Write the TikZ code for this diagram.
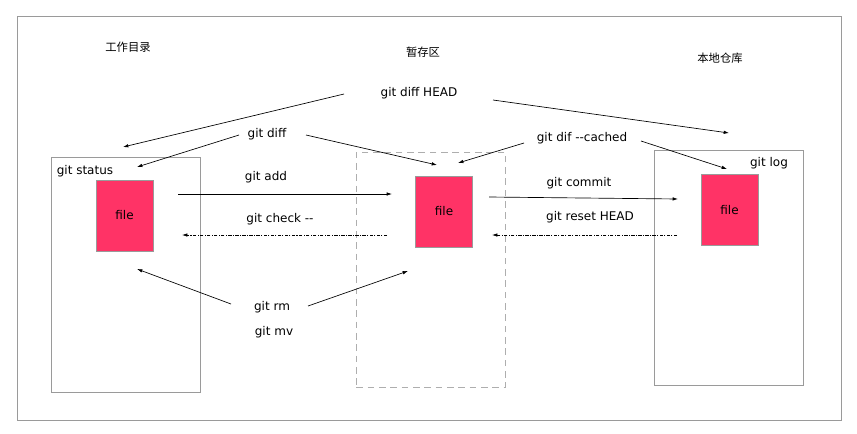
\documentclass[tikz,border=0pt]{standalone}
\usepackage{fontspec}
\setmainfont{DejaVu Sans}
\newfontfamily\cjk{Noto Sans CJK SC}
\usepackage{tikz}
\usetikzlibrary{arrows.meta}
\definecolor{filered}{HTML}{FF3366}
\definecolor{framegray}{HTML}{9A9A9A}

\begin{document}
\begin{tikzpicture}[x=0.75pt,y=-0.75pt,font=\fontsize{9}{11}\selectfont]
  \tikzstyle{AreaStyle}=[draw=framegray,minimum width=112pt,minimum height=176pt,inner sep=0pt]
  \tikzstyle{FileStyle}=[draw=framegray,fill=filered,minimum width=43pt,minimum height=53pt,inner sep=0pt]
  \tikzstyle{TitleStyle}=[font=\cjk\fontsize{8.5}{10}\selectfont]
  \tikzstyle{EdgeStyle}=[-{Latex[length=4pt,width=2.6pt]},line width=0.5pt]
  \tikzstyle{BackStyle}=[EdgeStyle,dash pattern=on 2.5pt off 1pt on 0.8pt off 1pt]
  \useasboundingbox (0,0) rectangle (857,433);
  \draw[framegray] (17,16) rectangle (841,420);
  % the three areas
  \node[AreaStyle] (work) at (125.5,275) {};
  \node[AreaStyle,draw=framegray!80,dash pattern=on 5pt off 3.5pt] (stage) at (431,269.5) {};
  \node[AreaStyle] (repo) at (728.5,267.5) {};
  \node[FileStyle] (workfile) at (124.5,215.5) {file};
  \node[FileStyle] (stagefile) at (444,211.5) {file};
  \node[FileStyle] (repofile) at (729.5,210) {file};
  % titles
  \node[TitleStyle] (worktitle) at (128,47) {工作目录};
  \node[TitleStyle] (stagetitle) at (423,52) {暂存区};
  \node[TitleStyle] (repotitle) at (720,58) {本地仓库};
  % commands
  \node (status) at (85,171) {git status};
  \node (log) at (769,163) {git log};
  \node (diffhead) at (419,93) {git diff HEAD};
  \node (diff) at (267,134) {git diff};
  \node (cached) at (582,138) {git dif -{}-cached};
  \node (add) at (266,177) {git add};
  \node (commit) at (579,183) {git commit};
  \node (checkout) at (280,219) {git check -{}-};
  \node (reset) at (590,217) {git reset HEAD};
  \node (rm) at (272,307) {git rm};
  \node (mv) at (274,332) {git mv};
  % arrow ends
  \coordinate (dh1) at (344,94);   \coordinate (dh2) at (123,147);
  \coordinate (dh3) at (493,100);  \coordinate (dh4) at (729,133);
  \coordinate (d1) at (239,135);   \coordinate (d2) at (137,167);
  \coordinate (d3) at (306,135);   \coordinate (d4) at (437,165);
  \coordinate (c1) at (524,143);   \coordinate (c2) at (458,163);
  \coordinate (c3) at (641,141);   \coordinate (c4) at (727,169);
  \coordinate (a1) at (178,194);   \coordinate (a2) at (392,194);
  \coordinate (m1) at (489,197);   \coordinate (m2) at (678,199);
  \coordinate (k1) at (387,235);   \coordinate (k2) at (182,235);
  \coordinate (r1) at (677,235);   \coordinate (r2) at (492,235);
  \coordinate (rm1) at (231,304);  \coordinate (rm2) at (137,269);
  \coordinate (rm3) at (308,306);  \coordinate (rm4) at (408,271);
  \draw[EdgeStyle] (dh1) -- (dh2);
  \draw[EdgeStyle] (dh3) -- (dh4);
  \draw[EdgeStyle] (d1) -- (d2);
  \draw[EdgeStyle] (d3) -- (d4);
  \draw[EdgeStyle] (c1) -- (c2);
  \draw[EdgeStyle] (c3) -- (c4);
  \draw[EdgeStyle] (a1) -- (a2);
  \draw[EdgeStyle] (m1) -- (m2);
  \draw[BackStyle] (k1) -- (k2);
  \draw[BackStyle] (r1) -- (r2);
  \draw[EdgeStyle] (rm1) -- (rm2);
  \draw[EdgeStyle] (rm3) -- (rm4);
\end{tikzpicture}
\end{document}
